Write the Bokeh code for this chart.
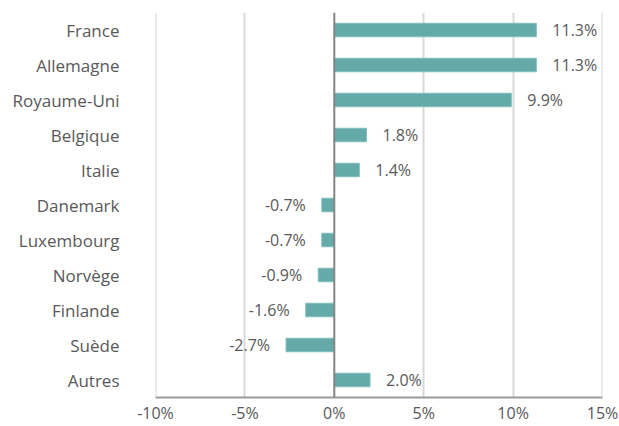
from bokeh.plotting import figure
from bokeh.models import ColumnDataSource, FactorRange, Span, FixedTicker, CustomJSTickFormatter
from bokeh.core.properties import value
from bokeh.embed import file_html
from bokeh.resources import INLINE

categories = ["France", "Allemagne", "Royaume-Uni", "Belgique", "Italie", "Danemark",
              "Luxembourg", "Norvège", "Finlande", "Suède", "Autres"]
values = [11.3, 11.3, 9.9, 1.8, 1.4, -0.7, -0.7, -0.9, -1.6, -2.7, 2.0]
x_ticks = [-10, -5, 0, 5, 10, 15]

FONT = "Open Sans"
TXT = "#595959"
BAR = "#63aaa8"
GRID = "#d9d9d9"

src = ColumnDataSource(dict(
    cat=categories,
    val=values,
    label=[f"{v:.1f}%" for v in values],
    align=["left" if v >= 0 else "right" for v in values],
    off=[16 if v >= 0 else -16 for v in values],
))

p = figure(y_range=FactorRange(*reversed(categories), range_padding=0),
           x_range=(-10, 15), width=619, height=426,
           output_backend="svg", toolbar_location=None,
           min_border_left=155, min_border_right=17, min_border_top=12, min_border_bottom=29)
p.outline_line_color = None
p.background_fill_color = "white"

p.hbar(y="cat", right="val", left=0, height=0.385, source=src,
       fill_color=BAR, line_color="#80c0bc", line_width=1)

p.text(x="val", y="cat", text="label", source=src, x_offset="off",
       text_align="align", text_baseline="middle", text_color=TXT,
       text_font=value(FONT), text_font_size="16px")

p.xgrid.ticker = FixedTicker(ticks=[-5, 5, 10])
p.xgrid.grid_line_color = GRID
p.xgrid.grid_line_width = 2
p.ygrid.grid_line_color = None
for edge in (x_ticks[0], x_ticks[-1]):
    p.add_layout(Span(location=edge, dimension="height", line_color=GRID, line_width=2))

p.add_layout(Span(location=0, dimension="height", line_color="#858585", line_width=2))

p.xaxis.ticker = FixedTicker(ticks=x_ticks)
p.xaxis.formatter = CustomJSTickFormatter(code="return tick + '%';")
p.xaxis.axis_line_color = "#9a9a9a"
p.xaxis.axis_line_width = 2
p.xaxis.major_tick_line_color = None
p.xaxis.minor_tick_line_color = None
p.xaxis.major_tick_out = 0
p.xaxis.major_tick_in = 0
p.xaxis.major_label_standoff = 4
p.xaxis.major_label_text_font = FONT
p.xaxis.major_label_text_font_size = "16px"
p.xaxis.major_label_text_color = TXT

p.yaxis.axis_line_color = None
p.yaxis.major_tick_line_color = None
p.yaxis.minor_tick_line_color = None
p.yaxis.major_tick_out = 0
p.yaxis.major_tick_in = 0
p.yaxis.major_label_standoff = 36
p.yaxis.major_label_text_font = FONT
p.yaxis.major_label_text_font_size = "17px"
p.yaxis.major_label_text_color = TXT

open("out.html", "w").write(file_html(p, INLINE))
